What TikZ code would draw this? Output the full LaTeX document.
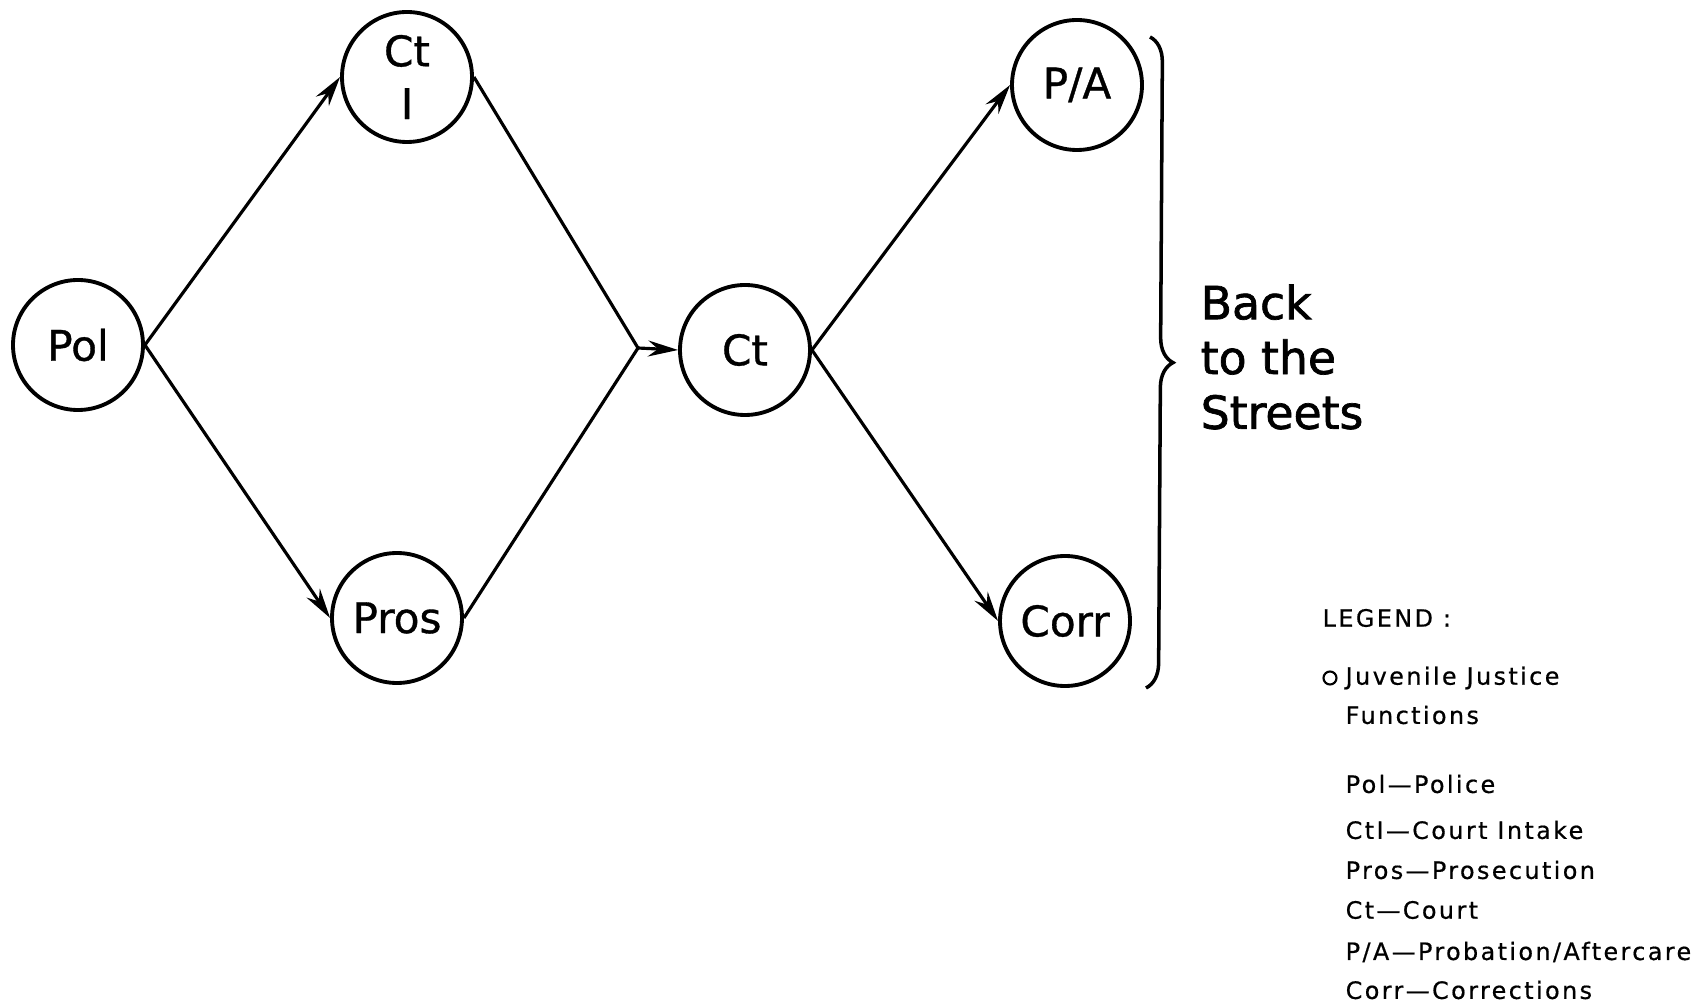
\documentclass[tikz,border=0pt]{standalone}
\usepackage{fontspec}
\setmainfont{DejaVu Sans}
\usetikzlibrary{arrows.meta,decorations.pathreplacing}

\begin{document}
\begin{tikzpicture}[
    func/.style={circle,draw,line width=1.1pt,minimum size=1.3cm,inner sep=0pt,align=center,font=\fontsize{12}{15}\selectfont\addfontfeatures{FakeBold=0.8}},
    flow/.style={line width=0.9pt,-{Stealth[length=3mm,width=1.6mm,inset=1mm]}},
    link/.style={line width=0.9pt},
    legtext/.style={anchor=west,inner sep=0pt,font=\fontsize{6.8}{8}\selectfont\addfontfeatures{LetterSpace=10,FakeBold=0.6}}
]
    \useasboundingbox (0,0) rectangle (17,10.07);

    % the functions
    \node[func] (pol)  at (0.78, 6.62) {Pol};
    \node[func] (cti)  at (4.07, 9.30) {Ct\\I};
    \node[func] (pros) at (3.97, 3.89) {Pros};
    \node[func] (ct)   at (7.45, 6.57) {Ct};
    \node[func] (pa)   at (10.77, 9.22) {P/A};
    \node[func] (corr) at (10.65, 3.86) {Corr};
    \coordinate (merge) at (6.38, 6.59);

    \draw[flow] (pol.east) -- (cti.west);
    \draw[flow] (pol.east) -- (pros.west);
    \draw[link] (cti.east) -- (merge);
    \draw[link] (pros.east) -- (merge);
    \draw[flow] (merge) -- (ct.west);
    \draw[flow] (ct.east) -- (pa.west);
    \draw[flow] (ct.east) -- (corr.west);

    % back to the streets
    \coordinate (braceTop) at (11.50, 9.70);
    \coordinate (braceBot) at (11.46, 3.19);
    \draw[line width=1pt,decorate,decoration={brace,amplitude=0.25cm}] (braceTop) -- (braceBot);
    \node[anchor=west,align=left,inner sep=0pt,font=\fontsize{13}{15.6}\selectfont\addfontfeatures{FakeBold=1.5}] (streets) at (12.00, 6.50) {Back\\to the\\Streets};

    % legend
    \node[legtext] (legend) at (13.22, 3.89) {LEGEND :};
    \node[circle,draw,line width=0.6pt,minimum size=0.13cm,inner sep=0pt] (legcirc) at (13.30, 3.29) {};
    \node[legtext] (legfunc) at (13.45, 3.29) {Juvenile Justice};
    \node[legtext] (legfunc2) at (13.45, 2.92) {Functions};
    \node[legtext] (legpol)  at (13.45, 2.23) {Pol\textemdash Police};
    \node[legtext] (legcti)  at (13.45, 1.77) {CtI\textemdash Court Intake};
    \node[legtext] (legpros) at (13.45, 1.37) {Pros\textemdash Prosecution};
    \node[legtext] (legct)   at (13.45, 0.97) {Ct\textemdash Court};
    \node[legtext] (legpa)   at (13.45, 0.55) {P/A\textemdash Probation/Aftercare};
    \node[legtext] (legcorr) at (13.45, 0.17) {Corr\textemdash Corrections};
\end{tikzpicture}
\end{document}
